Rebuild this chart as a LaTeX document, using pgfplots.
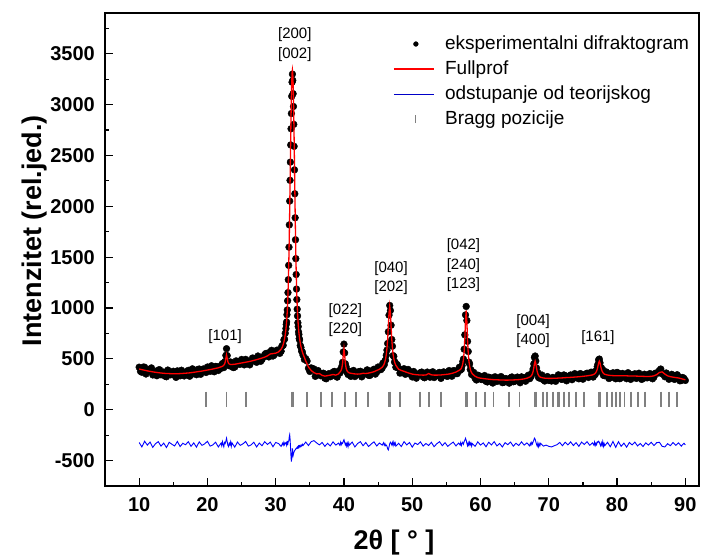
\documentclass[border=0pt]{standalone}
\usepackage{fontspec}
\setmainfont{Liberation Sans}
\usepackage{pgfplots}
\usepackage{pgfplotstable}
\pgfplotsset{compat=1.18}
\definecolor{fpred}{RGB}{255,0,0}
\definecolor{diffblue}{RGB}{0,0,255}
\definecolor{legblue}{RGB}{0,0,200}
\definecolor{braggray}{RGB}{128,128,128}

\pgfplotstableread{
x obs calc diff
10.0 418 400 -322
10.4 368 394 -366
10.8 418 388 -310
11.2 374 382 -348
11.6 399 377 -318
12.0 342 372 -370
12.4 374 368 -334
12.8 390 364 -314
13.2 343 361 -358
13.6 370 358 -328
14.0 324 356 -372
14.4 375 355 -320
14.8 354 354 -340
15.2 337 353 -356
15.6 382 354 -312
16.0 333 355 -362
16.4 367 357 -330
16.8 355 359 -344
17.2 387 361 -314
17.6 344 364 -360
18.0 382 368 -326
18.4 344 372 -368
18.8 400 376 -316
19.2 370 380 -350
19.6 389 385 -336
20.0 420 390 -310
20.4 377 395 -358
20.8 394 400 -346
21.2 426 406 -320
21.6 386 412 -366
22.0 434 422 -328
22.1 410 424 -354
22.2 454 428 -314
22.3 429 431 -342
22.4 414 438 -364
22.5 465 447 -322
22.6 475 467 -332
22.7 534 504 -310
22.8 600 540 -280
22.9 532 507 -315
23.0 462 472 -350
23.1 434 456 -362
23.2 459 449 -330
23.3 442 446 -344
23.4 469 445 -316
23.5 425 445 -360
23.6 459 445 -326
24.0 419 447 -368
24.4 474 452 -318
24.8 447 457 -350
25.2 466 462 -336
25.6 495 467 -312
26.0 454 472 -358
26.4 472 478 -346
26.8 505 485 -320
27.2 466 492 -366
27.6 512 500 -328
28.0 494 508 -354
28.4 543 517 -314
28.8 528 530 -342
29.2 570 548 -318
29.6 528 552 -364
30.0 574 556 -322
30.4 576 568 -332
30.8 575 595 -360
31.0 631 621 -330
31.1 633 641 -348
31.2 686 666 -320
31.3 694 698 -344
31.4 752 738 -326
31.5 798 792 -334
31.55 839 827 -328
31.60 863 869 -346
31.65 934 918 -324
31.70 981 977 -336
31.75 1071 1051 -320
31.80 1151 1141 -330
31.85 1278 1250 -312
31.90 1419 1389 -310
31.95 1598 1548 -290
32.00 1817 1737 -260
32.05 2051 1956 -245
32.10 2255 2195 -280
32.15 2434 2434 -340
32.20 2603 2673 -410
32.25 2762 2892 -470
32.30 2912 3082 -510
32.35 3081 3221 -480
32.40 3220 3310 -430
32.45 3299 3339 -380
32.50 3238 3308 -410
32.55 3107 3217 -450
32.60 2981 3076 -435
32.65 2805 2885 -420
32.70 2589 2664 -415
32.75 2358 2423 -405
32.80 2123 2183 -400
32.85 1887 1942 -395
32.90 1671 1721 -390
32.95 1485 1530 -385
33.00 1329 1369 -380
33.05 1186 1228 -382
33.10 1083 1117 -374
33.15 988 1026 -378
33.20 922 950 -368
33.25 855 889 -374
33.30 817 839 -362
33.35 765 795 -370
33.40 740 758 -358
33.45 700 726 -366
33.50 686 700 -354
33.6 632 656 -364
33.7 613 621 -348
33.8 575 593 -358
33.9 569 569 -340
34.0 537 549 -352
34.4 502 480 -318
34.8 408 420 -352
35.2 411 385 -314
35.6 401 365 -304
36.0 366 352 -326
36.4 349 355 -346
36.8 356 338 -322
37.2 310 330 -360
37.6 345 335 -330
38.0 324 340 -356
38.4 370 346 -316
38.8 332 340 -348
39.2 364 352 -328
39.4 360 370 -350
39.5 397 377 -320
39.6 386 390 -344
39.7 429 413 -324
39.8 466 458 -332
39.9 568 538 -310
40.0 645 600 -295
40.1 558 538 -320
40.2 452 458 -346
40.3 425 413 -328
40.4 372 390 -358
40.5 387 377 -330
40.6 346 370 -364
40.7 379 365 -326
40.8 353 361 -348
41.2 378 356 -318
41.6 326 352 -366
42.0 358 350 -332
42.4 378 352 -314
42.8 344 358 -354
43.2 374 356 -322
43.6 338 360 -362
44.0 370 366 -336
44.4 398 374 -316
44.8 370 386 -356
45.2 410 398 -328
45.6 410 418 -348
45.8 452 436 -324
45.9 442 452 -350
46.0 479 473 -334
46.1 488 502 -354
46.2 536 544 -348
46.3 586 606 -360
46.4 651 696 -385
46.5 766 821 -395
46.6 930 955 -365
46.7 1025 1020 -335
46.8 975 955 -320
46.9 831 821 -330
47.0 690 696 -346
47.1 624 606 -322
47.2 532 544 -352
47.3 524 502 -318
47.4 469 473 -344
47.5 466 452 -326
47.6 418 436 -358
48.0 408 398 -330
48.4 364 386 -362
48.8 403 377 -314
49.2 361 367 -346
49.6 376 358 -322
50.0 322 350 -368
50.4 358 346 -328
50.8 341 343 -342
51.2 365 341 -316
51.6 322 340 -358
52.0 349 341 -332
52.4 344 356 -352
52.8 363 343 -320
53.2 316 340 -364
53.6 346 340 -334
54.0 367 341 -314
54.4 329 343 -354
54.8 362 346 -324
55.2 329 349 -360
55.6 356 354 -338
56.0 383 361 -318
56.4 354 370 -356
56.8 397 385 -328
57.0 387 393 -346
57.1 417 399 -322
57.2 397 409 -352
57.3 434 426 -332
57.4 473 453 -320
57.5 498 496 -338
57.6 595 570 -315
57.7 736 696 -300
57.8 932 872 -280
57.9 1015 975 -300
58.0 877 867 -330
58.1 672 686 -354
58.2 572 556 -324
58.3 468 478 -350
58.4 450 430 -320
58.5 396 400 -344
58.6 392 378 -326
58.7 346 364 -358
58.8 361 353 -332
59.2 309 329 -360
59.6 340 316 -316
60.0 302 310 -348
60.4 320 306 -326
60.8 279 303 -364
61.2 320 300 -320
61.6 291 297 -346
62.0 321 295 -314
62.4 278 294 -356
62.8 301 293 -332
63.2 266 292 -366
63.6 307 291 -324
64.0 287 291 -344
64.4 314 292 -318
64.8 275 293 -358
65.2 304 294 -330
65.6 284 296 -352
66.0 323 299 -316
66.4 295 303 -348
66.8 324 310 -326
67.2 305 321 -356
67.3 335 325 -330
67.4 325 331 -346
67.5 358 340 -322
67.6 357 353 -336
67.7 400 376 -316
67.8 451 411 -300
67.9 514 454 -280
68.0 528 478 -290
68.1 479 454 -315
68.2 410 410 -340
68.3 357 375 -358
68.4 364 352 -328
68.5 316 338 -362
68.6 335 329 -334
68.7 309 323 -354
68.8 329 319 -330
69.2 294 312 -358
69.6 301 309 -348
70.0 288 308 -360
70.4 282 308 -366
70.8 295 309 -354
71.2 306 310 -344
71.6 330 312 -322
72.0 299 313 -354
72.4 335 315 -320
72.8 311 317 -346
73.2 342 318 -316
73.6 308 320 -352
74.0 338 322 -324
74.4 304 324 -360
74.8 349 327 -318
75.2 328 330 -342
75.6 359 333 -314
76.0 327 337 -350
76.4 356 342 -326
76.6 340 348 -348
76.7 374 352 -318
76.8 346 358 -352
76.9 377 367 -330
77.0 376 380 -344
77.1 423 399 -316
77.2 448 428 -320
77.3 491 461 -310
77.4 498 478 -320
77.5 461 461 -340
77.6 412 428 -356
77.7 413 399 -326
77.8 370 380 -350
77.9 393 367 -314
78.0 338 358 -360
78.1 360 352 -332
78.2 334 348 -354
78.6 361 341 -320
79.0 313 337 -364
79.4 363 335 -312
79.8 304 334 -370
80.2 359 333 -314
80.6 313 333 -360
81.0 345 333 -328
81.4 305 333 -368
81.8 350 332 -322
82.2 326 332 -346
82.6 353 331 -318
83.0 314 330 -356
83.4 337 329 -332
83.8 306 328 -362
84.2 341 327 -326
84.6 319 327 -348
85.0 348 328 -320
85.4 321 333 -352
85.8 361 345 -324
86.2 386 366 -320
86.6 352 372 -360
87.0 324 350 -366
87.4 339 333 -334
87.8 311 325 -354
88.2 338 320 -322
88.6 306 316 -350
89.0 326 312 -326
89.4 287 305 -358
89.8 308 298 -330
90.0 288 294 -346
}\xrd

% observed points lying between the rows above (background regions)
\pgfplotstableread{
x obs
10.2 377
10.6 419
11.0 351
11.4 392
11.8 411
12.2 360
12.6 334
13.0 393
13.4 366
13.8 329
14.2 390
14.6 343
15.0 378
15.4 318
15.8 363
16.2 388
16.6 332
17.0 376
17.4 329
17.8 402
18.2 362
18.6 396
19.0 348
19.4 401
19.8 366
20.2 401
20.6 432
21.0 373
21.4 423
21.8 401
23.8 414
24.2 480
24.6 449
25.0 494
25.4 441
25.8 482
26.2 441
26.6 508
27.0 477
27.4 528
27.8 476
28.2 519
28.6 554
29.0 519
29.4 584
29.8 540
30.2 586
30.6 554
30.9 624
34.2 494
34.6 478
35.0 376
35.4 394
35.8 328
36.2 385
36.6 334
37.0 359
37.4 304
37.8 355
38.2 335
38.6 377
39.0 320
39.3 381
41.0 328
41.4 386
41.8 341
42.2 375
42.6 323
43.0 369
43.4 392
43.8 337
44.2 388
44.6 350
45.0 420
45.4 394
45.7 457
47.8 443
48.2 360
48.6 395
49.0 348
49.4 396
49.8 346
50.2 376
50.6 310
51.0 352
51.4 370
51.8 314
52.2 370
52.6 320
53.0 373
53.4 330
53.8 360
54.2 308
54.6 372
55.0 331
55.4 385
55.8 329
56.2 383
56.6 355
56.9 417
59.0 367
59.4 292
59.8 333
60.2 296
60.6 336
61.0 273
61.4 314
61.8 262
62.2 322
62.6 285
63.0 326
63.4 269
63.8 303
64.2 261
64.6 322
65.0 279
65.4 321
65.8 265
66.2 317
66.6 280
67.0 339
69.0 341
69.4 282
69.8 326
70.2 288
70.6 318
71.0 279
71.4 343
71.8 300
72.2 342
72.6 284
73.0 331
73.4 295
73.8 355
74.2 313
74.6 355
75.0 300
75.4 351
75.8 317
76.2 369
76.5 321
78.4 372
78.8 307
79.2 354
79.6 318
80.0 367
80.4 305
80.8 357
81.2 323
81.6 364
82.0 298
82.4 347
82.8 308
83.2 359
83.6 298
84.0 349
84.4 313
84.8 355
85.2 304
85.6 359
86.0 361
86.4 400
86.8 347
87.2 361
87.6 299
88.0 348
88.4 298
88.8 344
89.2 284
89.6 317
}\xrdmid

\pgfplotstableread{
x y
19.8 105
22.8 105
25.6 105
32.4 105
32.6 105
34.6 105
36.6 105
38.3 105
40.1 105
41.8 105
43.5 105
46.6 105
46.8 105
48.2 105
51.1 105
52.4 105
54.2 105
57.9 105
58.0 105
59.3 105
60.6 105
61.9 105
64.2 105
65.7 105
68.0 105
68.1 105
69.1 105
69.7 105
70.6 105
71.4 105
71.5 105
72.2 105
73.0 105
74.0 105
75.2 105
77.4 105
77.5 105
78.5 105
79.3 105
79.9 105
80.4 105
81.1 105
82.0 105
83.1 105
84.1 105
86.4 105
87.6 105
88.8 105
}\bragg

\begin{document}
\begin{tikzpicture}
\begin{axis}[
  scale only axis, width=594pt, height=473pt,
  xmin=5, xmax=92, ymin=-750, ymax=3900,
  clip mode=individual,
  xtick={10,20,...,90}, minor xtick={15,25,...,85},
  ytick={-500,0,...,3500}, minor ytick={-250,250,...,3750},
  tick align=inside, xtick pos=bottom, ytick pos=left,
  major tick length=8pt, minor tick length=4.5pt,
  every tick/.style={black, line width=1.2pt},
  axis line style={line width=1.2pt},
  tick label style={font=\fontsize{20}{24}\selectfont\bfseries},
  /pgf/number format/assume math mode=true,
  /pgf/number format/1000 sep={},
  scaled y ticks=false,
  y tick label style={inner sep=0pt, xshift=-10pt},
  x tick label style={inner sep=0pt, yshift=-11pt},
  xlabel={2θ [ ° ]}, ylabel={Intenzitet (rel.jed.)},
  label style={font=\fontsize{27}{32}\selectfont\bfseries},
  xlabel style={yshift=-15pt, xshift=-8pt},
  ylabel style={at={(ticklabel cs:0.54)}},
  legend cell align=left,
  legend style={at={(rel axis cs:0.485,0.956)}, anchor=north west, draw=none, fill=none,
    font=\fontsize{19}{22}\selectfont, inner sep=0pt, row sep=5pt, column sep=0pt,
    nodes={inner sep=1pt, text height=14pt, text depth=4pt}},
]
\addplot[forget plot, only marks, mark=*, mark size=3.4pt, black]
  table[x=x, y=obs] {\xrdmid};
\addplot[forget plot, only marks, mark=*, mark size=3.4pt, black]
  table[x=x, y=obs] {\xrd};
\addplot[forget plot, fpred, line width=1.3pt, no marks]
  table[x=x, y=calc] {\xrd};
\addplot[forget plot, diffblue, line width=0.9pt, no marks]
  table[x=x, y=diff] {\xrd};
\addplot[forget plot, only marks, mark=|, mark size=7.5pt, mark options={braggray, line width=1.8pt}]
  table[x=x, y=y] {\bragg};

\addlegendimage{fpred, legend image code/.code={\fill[black] (22pt,0) circle (2.4pt); \path (0pt,0) (50pt,0);}}
\addlegendentry{eksperimentalni difraktogram}
\addlegendimage{fpred, legend image code/.code={\path[draw=fpred, line width=1.2pt] (0pt,0) -- (40pt,0); \path (50pt,0);}}
\addlegendentry{Fullprof}
\addlegendimage{legblue, legend image code/.code={\path[draw=legblue, line width=1pt] (0pt,0) -- (40pt,0); \path (50pt,0);}}
\addlegendentry{odstupanje od teorijskog}
\addlegendimage{braggray, legend image code/.code={\path[draw=braggray, line width=1pt] (22pt,-4pt) -- (22pt,4pt); \path (0pt,0) (50pt,0);}}
\addlegendentry{Bragg pozicije}

\node[font=\fontsize{15}{19.5}\selectfont, align=center] at (axis cs:32.8,3590) {[200]\\{[002]}};
\node[font=\fontsize{15}{19.5}\selectfont, align=center] at (axis cs:22.6,715) {[101]};
\node[font=\fontsize{15}{19.5}\selectfont, align=center] at (axis cs:40.2,880) {[022]\\{[220]}};
\node[font=\fontsize{15}{19.5}\selectfont, align=center] at (axis cs:46.9,1295) {[040]\\{[202]}};
\node[font=\fontsize{15}{19.5}\selectfont, align=center] at (axis cs:57.5,1420) {[042]\\{[240]}\\{[123]}};
\node[font=\fontsize{15}{19.5}\selectfont, align=center] at (axis cs:67.7,775) {[004]\\{[400]}};
\node[font=\fontsize{15}{19.5}\selectfont, align=center] at (axis cs:77.2,710) {[161]};
\end{axis}
\path ([shift={(-105pt,-70pt)}]current axis.south west) rectangle ([shift={(3pt,13pt)}]current axis.north east);
\end{tikzpicture}
\end{document}
